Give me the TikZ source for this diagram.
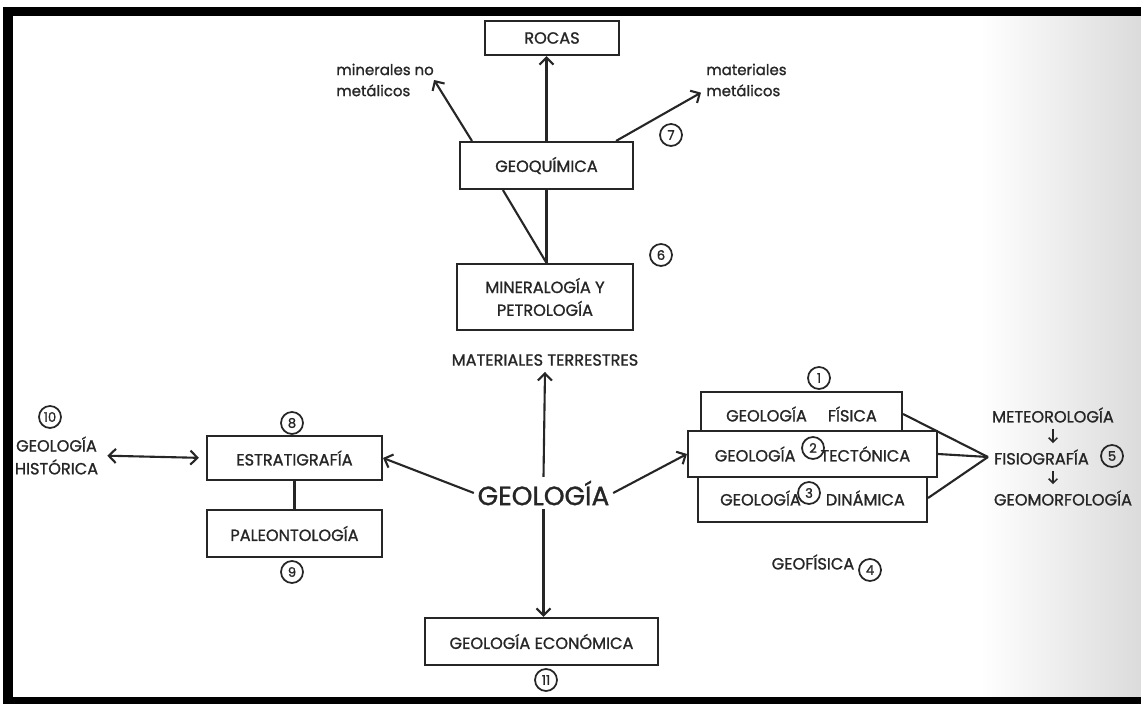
\documentclass[tikz,border=0pt]{standalone}
\usepackage{fontspec}
\setmainfont{Poppins}[FakeBold=1.2]
\usepackage{tikz}
\usetikzlibrary{arrows.meta}

\begin{document}
\begin{tikzpicture}[
		>={Straight Barb[length=4pt, width=8pt]},
		every node/.style={text=black!85, font=\fontsize{9.2}{13}\selectfont},
		small/.style={font=\fontsize{8.5}{12}\selectfont},
		box/.style={rectangle, draw=black!85, line width=1.2pt, fill=white},
		num/.style={circle, draw=black!85, line width=1pt, inner sep=0pt, minimum size=0.44cm, font=\fontsize{7.5}{8}\selectfont},
		link/.style={draw=black!85, line width=1.2pt}
	]
  \useasboundingbox (0cm, 0cm) rectangle (22.82cm, 14.08cm);
  \shade[left color=white, right color=black!14] (19.6cm, 0.14cm) rectangle (22.82cm, 13.76cm);

  % upper branch
  \node (rocas) [box, minimum width=2.68cm, minimum height=0.68cm] at (11.04cm, 13.32cm) {ROCAS};
  \node (geoquimica) [box, minimum width=3.46cm, minimum height=0.94cm] at (10.93cm, 10.77cm) {GEOQUÍMICA};
  \node (mineralogia) [box, minimum width=3.52cm, minimum height=1.32cm, align=center] at (10.90cm, 8.14cm) {MINERALOGÍA Y\\PETROLOGÍA};
  \node (minerales) [small, anchor=west, align=left, inner sep=0pt] at (6.72cm, 12.48cm) {minerales no\\metálicos};
  \node (materiales) [small, anchor=west, align=left, inner sep=0pt] at (14.12cm, 12.48cm) {materiales\\metálicos};
  \node (c7) [num] at (13.42cm, 11.38cm) {7};
  \node (c6) [num] at (13.22cm, 8.98cm) {6};

  % centre
  \node (terrestres) at (10.90cm, 6.88cm) {MATERIALES TERRESTRES};
  \node (geologia) [font=\fontsize{15}{18}\selectfont, inner sep=2pt] at (10.87cm, 4.22cm) {GEOLOGÍA};
  \node (economica) [box, minimum width=4.66cm, minimum height=0.94cm] at (10.83cm, 1.25cm) {GEOLOGÍA ECONÓMICA};
  \node (c11) [num] at (10.92cm, 0.48cm) {11};

  % left branch
  \node (estratigrafia) [box, minimum width=3.5cm, minimum height=0.88cm] at (5.89cm, 4.92cm) {ESTRATIGRAFÍA};
  \node (paleontologia) [box, minimum width=3.5cm, minimum height=0.94cm] at (5.89cm, 3.41cm) {PALEONTOLOGÍA};
  \node (c8) [num] at (5.84cm, 5.62cm) {8};
  \node (c9) [num] at (5.84cm, 2.64cm) {9};
  \node (historica) [align=center, inner sep=0pt] at (1.13cm, 4.97cm) {GEOLOGÍA\\HISTÓRICA};
  \node (c10) [num] at (1.0cm, 5.74cm) {10};

  % right branch
  \node (fisica) [box, minimum width=4.02cm, minimum height=0.88cm] at (16.03cm, 5.80cm) {GEOLOGÍA\hspace{0.42cm}FÍSICA};
  \node (dinamica) [box, minimum width=4.58cm, minimum height=0.96cm] at (16.25cm, 4.12cm) {GEOLOGÍA\hspace{0.5cm}DINÁMICA};
  \node (tectonica) [box, minimum width=4.98cm, minimum height=0.92cm] at (16.25cm, 5.00cm) {GEOLOGÍA\hspace{0.5cm}TECTÓNICA};
  \node (c1) [num] at (16.38cm, 6.52cm) {1};
  \node (c2) [num] at (16.26cm, 5.12cm) {2};
  \node (c3) [num] at (16.18cm, 4.22cm) {3};
  \node (geofisica) at (16.26cm, 2.84cm) {GEOFÍSICA};
  \node (c4) [num] at (17.40cm, 2.68cm) {4};
  \node (meteorologia) at (21.06cm, 5.78cm) {METEOROLOGÍA};
  \node (fisiografia) at (20.83cm, 4.94cm) {FISIOGRAFÍA};
  \node (geomorfologia) at (21.26cm, 4.12cm) {GEOMORFOLOGÍA};
  \node (c5) [num] at (22.24cm, 4.96cm) {5};

  \draw [link, ->] (geoquimica.north) -- (geoquimica.north |- rocas.south);
  \draw [link, ->] ([xshift=0.26cm]geoquimica.north west) -- (minerales.east);
  \draw [link, ->] ([xshift=-0.36cm]geoquimica.north east) -- ([shift={(-0.1cm,0.08cm)}]materiales.south west);
  \draw [link] (geoquimica.south) -- (geoquimica.south |- mineralogia.north);
  \draw [link] ([xshift=0.88cm]geoquimica.south west) -- (geoquimica.south |- mineralogia.north);
  \draw [link, ->] (geologia.north) -- (terrestres.south);
  \draw [link, ->] (geologia.south) -- (economica.north -| geologia.south);
  \draw [link, ->] (geologia.west) -- (estratigrafia.east);
  \draw [link, ->] (geologia.east) -- (tectonica.west);
  \draw [link] (estratigrafia) -- (paleontologia);
  \draw [link, <->, shorten <=5pt, shorten >=4pt] (historica.east) -- (estratigrafia.west);
  \draw [link] (fisica.east) -- (fisiografia.west);
  \draw [link] (tectonica.east) -- (fisiografia.west);
  \draw [link] (dinamica.east) -- (fisiografia.west);
  \draw [link, -{Straight Barb[length=2.5pt, width=5pt]}, line width=0.9pt] (meteorologia.south) -- (fisiografia.north -| meteorologia.south);
  \draw [link, -{Straight Barb[length=2.5pt, width=5pt]}, line width=0.9pt] (fisiografia.south -| meteorologia.south) -- (geomorfologia.north -| meteorologia.south);

  % frame
  \fill [black] (0.06cm, 13.76cm) rectangle (22.82cm, 13.94cm);
  \fill [black] (0.06cm, 0cm) rectangle (0.26cm, 13.94cm);
  \fill [black] (0.06cm, 0cm) rectangle (22.82cm, 0.14cm);
\end{tikzpicture}
\end{document}
